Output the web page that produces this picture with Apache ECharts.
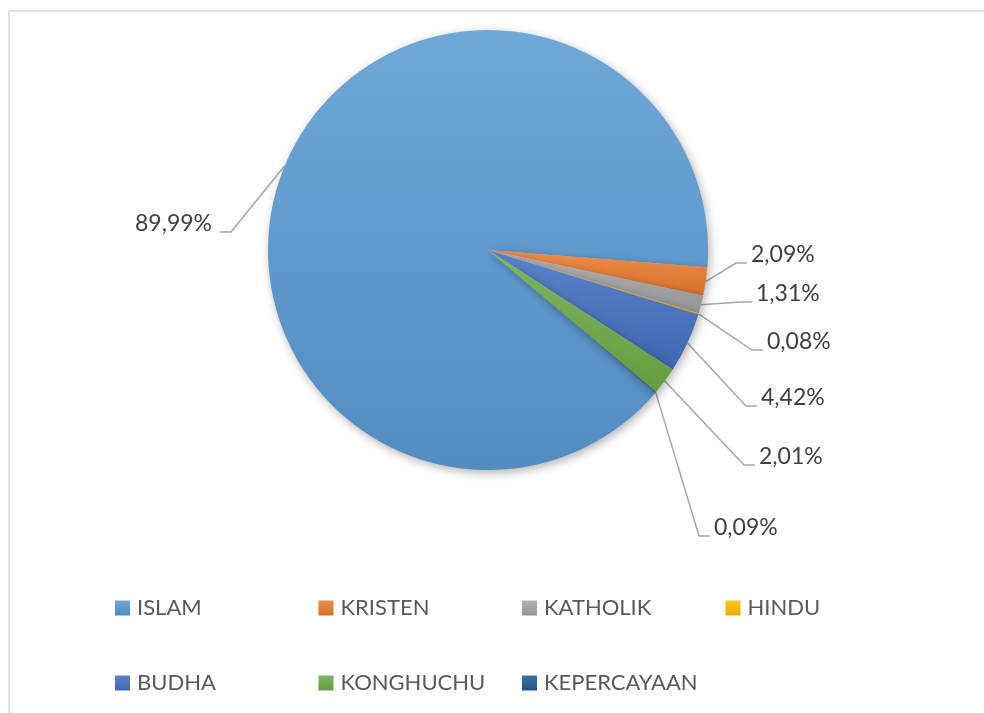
<!DOCTYPE html>
<html><head><meta charset="utf-8">
<script src="https://cdn.jsdelivr.net/npm/echarts@6/dist/echarts.min.js"></script>
<style>html,body{margin:0;padding:0;background:#fff}#c{width:984px;height:713px}</style>
</head><body><div id="c"></div>
<script>
const categories = ['ISLAM', 'KRISTEN', 'KATHOLIK', 'HINDU', 'BUDHA', 'KONGHUCHU', 'KEPERCAYAAN'];
const values = [89.99, 2.09, 1.31, 0.08, 4.42, 2.01, 0.09];
const baseColors = ['#5b9bd5', '#ed7d31', '#a5a5a5', '#ffc000', '#4472c4', '#70ad47', '#255e91'];
const legendRow1 = categories.slice(0, 4);
const legendRow2 = categories.slice(4);

// where each leader line ends (label side); text sits slightly above the line end
const labelAnchors = [
  { x: 220, y: 232, side: 'left' },
  { x: 747, y: 263, side: 'right' },
  { x: 752, y: 302, side: 'right' },
  { x: 763, y: 350, side: 'right' },
  { x: 757, y: 406, side: 'right' },
  { x: 755, y: 465, side: 'right' },
  { x: 710, y: 536, side: 'right' }
];
const textRaise = 8;

function mix(hex, target, f) {
  const n = parseInt(hex.slice(1), 16);
  const r = (n >> 16) & 255, g = (n >> 8) & 255, b = n & 255;
  const m = c => Math.round(c + (target - c) * f);
  return 'rgb(' + m(r) + ',' + m(g) + ',' + m(b) + ')';
}
function grad(hex) {
  return {
    type: 'linear', x: 0, y: 0, x2: 0, y2: 1,
    colorStops: [
      { offset: 0, color: mix(hex, 255, 0.12) },
      { offset: 1, color: mix(hex, 0, 0.10) }
    ]
  };
}
const fmt = v => v.toFixed(2).replace('.', ',') + '%';

const chart = echarts.init(document.getElementById('c'), null, { renderer: 'canvas' });
const legendCommon = {
  orient: 'horizontal',
  padding: 0,
  itemGap: 0,
  itemWidth: 15,
  itemHeight: 15,
  icon: 'rect',
  selectedMode: false,
  textStyle: {
    fontFamily: 'Lato', fontSize: 22, color: '#595959',
    width: 181.5, lineHeight: 24, padding: [0, 0, 0, 2]
  }
};
chart.setOption({
  animation: false,
  backgroundColor: '#ffffff',
  graphic: [{
    type: 'rect', silent: true,
    shape: { x: 9, y: 11, width: 1000, height: 800 },
    style: { fill: 'none', stroke: '#d9d9d9', lineWidth: 1.5 }
  }],
  legend: [
    Object.assign({}, legendCommon, { data: legendRow1, left: 115, top: 596 }),
    Object.assign({}, legendCommon, { data: legendRow2, left: 115, top: 671 })
  ],
  series: [{
    type: 'pie',
    center: [488, 250],
    radius: 220,
    startAngle: -40.5,
    clockwise: true,
    avoidLabelOverlap: false,
    emphasis: { disabled: true },
    itemStyle: {
      borderWidth: 0,
      shadowBlur: 10, shadowColor: 'rgba(0,0,0,0.3)', shadowOffsetX: 2, shadowOffsetY: 3
    },
    label: {
      show: true, position: 'outside',
      fontFamily: 'Lato', fontSize: 23, color: '#404040',
      formatter: p => fmt(p.value)
    },
    labelLine: { show: true, length: 10, length2: 11, lineStyle: { color: '#a6a6a6', width: 1.5 } },
    labelLayout: function (p) {
      const a = labelAnchors[p.dataIndex];
      const dir = a.side === 'left' ? 1 : -1;
      const res = {
        x: a.x, y: a.y - textRaise,
        align: a.side === 'left' ? 'right' : 'left', verticalAlign: 'middle'
      };
      if (p.labelLinePoints) {
        res.labelLinePoints = [p.labelLinePoints[0].slice(), [a.x + dir * 11, a.y], [a.x, a.y]];
      }
      return res;
    },
    data: categories.map((name, i) => ({
      name: name,
      value: values[i],
      itemStyle: { color: grad(baseColors[i]) },
      label: { padding: labelAnchors[i].side === 'left' ? [0, 8, 0, 0] : [0, 0, 0, 4] }
    }))
  }]
});
</script>
</body></html>
